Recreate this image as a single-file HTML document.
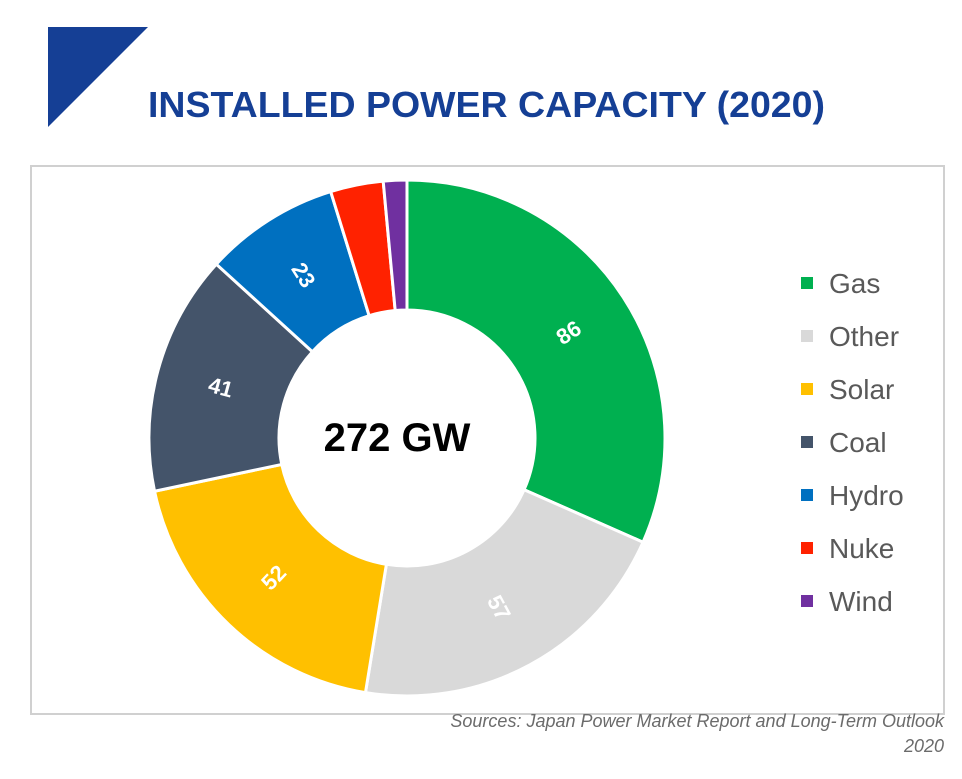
<!DOCTYPE html>
<html><head><meta charset="utf-8"><style>
body{margin:0;background:#fff;width:962px;height:774px;overflow:hidden;font-family:"Liberation Sans",sans-serif}
</style></head><body>
<svg width="962" height="774" viewBox="0 0 962 774">
<polygon points="48,27 148,27 48,127" fill="#153F95"/>
<text x="148" y="117" font-size="36" font-weight="bold" fill="#153F95" textLength="677" lengthAdjust="spacingAndGlyphs">INSTALLED POWER CAPACITY (2020)</text>
<rect x="31" y="166" width="913" height="548" fill="#fff" stroke="#d0d0d0" stroke-width="2"/>
<g id="donut"></g>
<text x="397" y="451" font-size="40" font-weight="bold" text-anchor="middle" fill="#000">272 GW</text>
<g id="legend"></g>
<text x="944" y="727" font-size="18" font-style="italic" fill="#6b6b6b" text-anchor="end">Sources: Japan Power Market Report and Long-Term Outlook</text>
<text x="944" y="752" font-size="18" font-style="italic" fill="#6b6b6b" text-anchor="end">2020</text>
</svg>
<script>
const categories=["Gas","Other","Solar","Coal","Hydro","Nuke","Wind"];
const values=[86,57,52,41,23,9,4];
const showLabel=[true,true,true,true,true,false,false];
const colors=["#00B050","#D9D9D9","#FFC000","#44546A","#0070C0","#FF2200","#7030A0"];
const NS="http://www.w3.org/2000/svg";
const cx=407,cy=438,R=258,r=128;
const total=values.reduce((a,b)=>a+b,0);
function pt(a,rad){const t=(a-90)*Math.PI/180;return [cx+rad*Math.cos(t),cy+rad*Math.sin(t)];}
const g=document.getElementById('donut');
let acc=0;
values.forEach((v,i)=>{
  const a0=acc/total*360,a1=(acc+v)/total*360;acc+=v;
  const big=a1-a0>180?1:0;
  const p0=pt(a0,R),p1=pt(a1,R),q1=pt(a1,r),q0=pt(a0,r);
  const p=document.createElementNS(NS,'path');
  p.setAttribute('d',`M${p0[0]},${p0[1]}A${R},${R} 0 ${big} 1 ${p1[0]},${p1[1]}L${q1[0]},${q1[1]}A${r},${r} 0 ${big} 0 ${q0[0]},${q0[1]}Z`);
  p.setAttribute('fill',colors[i]);p.setAttribute('stroke','#fff');p.setAttribute('stroke-width','3');
  
  
  g.appendChild(p);
  if(showLabel[i]){
    const m=(a0+a1)/2,c=pt(m,(R+r)/2);
    const rot=m<180?m-90:m-270;
    const t=document.createElementNS(NS,'text');
    t.setAttribute('x',c[0]);t.setAttribute('y',c[1]);
    t.setAttribute('transform',`rotate(${rot} ${c[0]} ${c[1]})`);
    t.setAttribute('text-anchor','middle');t.setAttribute('dominant-baseline','central');
    t.setAttribute('font-size','22');t.setAttribute('font-weight','bold');t.setAttribute('fill','#fff');
    
    
    t.textContent=v;g.appendChild(t);
  }
});
const lg=document.getElementById('legend');
categories.forEach((c,i)=>{
  const y=283+i*53;
  const s=document.createElementNS(NS,'rect');
  s.setAttribute('x',801);s.setAttribute('y',y-6);s.setAttribute('width',12);s.setAttribute('height',12);s.setAttribute('fill',colors[i]);
  
  
  lg.appendChild(s);
  const t=document.createElementNS(NS,'text');
  t.setAttribute('x',829);t.setAttribute('y',y+10);t.setAttribute('font-size','28');t.setAttribute('fill','#595959');
  
  
  t.textContent=c;lg.appendChild(t);
});
</script>
</body></html>
